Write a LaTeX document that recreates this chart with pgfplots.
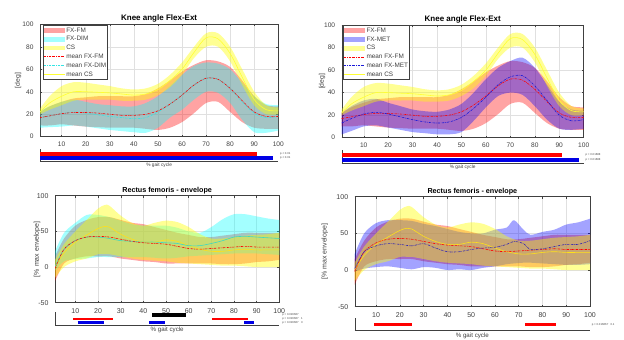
\documentclass[border=0pt]{standalone}
\usepackage{fontspec}
\setmainfont{Liberation Sans}
\usepackage{pgfplots}
\pgfplotsset{compat=1.18}
\usepgfplotslibrary{fillbetween}
\usepackage{pgfplotstable}

\definecolor{axgray}{rgb}{0.25,0.25,0.25}
\definecolor{gridgray}{rgb}{0.88,0.88,0.88}
\definecolor{pred}{rgb}{1,0,0}
\definecolor{pcyan}{rgb}{0,1,1}
\definecolor{pyel}{rgb}{1,1,0}
\definecolor{pblue}{rgb}{0,0,1}
\definecolor{mcyan}{rgb}{0.2,0.9,0.9}
\definecolor{mcyan2}{rgb}{0.25,0.85,0.75}
\definecolor{myel}{rgb}{1,1,0.2}
\definecolor{myel2}{rgb}{1,0.88,0.1}
\definecolor{mblue}{rgb}{0.1,0.1,0.85}
\definecolor{mblue2}{rgb}{0.2,0.15,0.7}
\definecolor{barblue}{rgb}{0,0,0.9}

\tikzset{mdash/.style={dash pattern=on 2.2pt off 0.9pt on 0.5pt off 0.9pt},
  ptext/.style={anchor=west, font=\fontsize{2.8}{3}\selectfont, text=axgray, inner sep=0.5pt}}

% ---------- top panels: knee angle ----------
\pgfplotstableread{
x lo hi m
1 10 22 17
5 10 27 18.5
10 11 31 20.5
15 10 34 21.5
20 9 35 21.5
25 8.5 36 21
30 8 36 20
35 8 36 19
40 8 36 19
45 7 38 20
50 6 43 23
55 8 50 29
60 13 58 37
65 21 64 46
70 30 68 52
75 31 67 51
80 22 62 43
85 13 50 32
90 8 36 22
95 7 28 18
100 7 27 18
}\tFMtop
\pgfplotstableread{
x lo hi m
1 8 23 17
5 8.5 27 18.5
10 9 31 20.5
15 10 33 22
20 9 31 21
25 7.5 29 19.5
30 6 28 18
35 5 27 17
40 4 27 16
45 3.5 30 17
50 8 36 22
55 17 45 29
60 24 55 37
65 33 63 46
70 40 66 52
75 39 65 51
80 30 60 43
85 15 48 31
90 4 36 21
95 3.5 29 17
100 5.5 28 18
}\tDIMtop
\pgfplotstableread{
x lo hi m
1 20 25 22
5 24 36 30
10 28 45 36
15 32 48.5 40
20 33 48 40
25 33 46.5 39.5
30 33 45 39
35 32 43 38
40 32 42 37
45 33 43 38
50 37 47 42
55 44 55 50
60 55 66 60
65 70 80 75
70 80 92 88
75 80 92 87
80 67 80 74
85 46 60 53
90 28 40 33
95 20 28 24
100 20 26 23
}\tCStop
\pgfplotstableread{
x lo hi m
1 3 22 13
5 6 28 17
10 10 33 21
15 11 34.5 22.5
20 9 31 21
25 7 28 18.5
30 5 25 16
35 4 23.5 14
40 3 23 13
45 3 25 14
50 5 30 18
55 15 40 26
60 27 52 36
65 37 62 47
70 40 68 54
75 38 71 55
80 28 62 46
85 16 47 33
90 8 32 20
95 7 25 15
100 8 24 16
}\tMETtop

% ---------- bottom panels: rectus femoris ----------
\pgfplotstableread{
x lo hi m
1 -20 15 -2
5 5 40 25
10 12 58 37
15 15 66 42
20 15 70 43
25 15 70 42
30 12 66 39
35 10 62 36
40 8 60 34
45 7 56 33
50 5 52 32
55 5 48 29
60 5 45 26
65 5 42 25
70 5 42 26
75 4 44 27
80 4 46 28
85 5 48 29
90 7 48 28
95 8 48 28
100 10 48 28
}\tFMbot
\pgfplotstableread{
x lo hi m
1 -5 22 0
5 8 48 25
10 11 62 37
15 12 73 42
20 14 73 42
25 14 70 40
30 14 65 37
35 14 60 36
40 14 58 35
45 13 58 35
50 12 58 34
55 13 55 33
60 15 50 30
65 16 48 30
70 17 56 33
75 18 67 37
80 19 74 42
85 19 74 43
90 19 71 42
95 18 68 41
100 17 66 40
}\tDIMbot
\pgfplotstableread{
x lo hi m
1 -15 10 0
5 0 32 20
10 8 50 35
15 12 66 45
20 18 82 54
23 18 87 57
25 18 86 56
30 15 72 46
35 12 62 39
40 10 58 35
45 9 62 35
50 8 65 38
55 6 63 36
60 5 56 30
65 4 46 25
70 3 40 22
75 2 40 22
80 2 42 24
85 1 44 25
90 0 45 24
95 0 46 24
100 0 48 24
}\tCSbot
\pgfplotstableread{
x lo hi m
1 -2 22 2
5 2 50 25
10 4 64 33
15 5 68 36
20 3 68 35
25 1 67 33
30 4 63 36
35 3 60 30
40 0 56 25
45 1 52 25
50 0 50 28
55 3 50 30
60 5 55 31
65 8 58 35
68 9 68 39
72 10 55 36
75 10 48 28
80 9 52 29
85 8 55 32
90 7 62 35
95 7 65 35
100 8 70 40
}\tMETbot

% band: table, colour, opacity, id
\newcommand{\band}[4]{%
  \addplot[name path=#4lo, draw=none, smooth, forget plot] table[x=x,y=lo]{#1};
  \addplot[name path=#4hi, draw=none, smooth, forget plot] table[x=x,y=hi]{#1};
  \addplot[draw=none, fill=#2, fill opacity=#3, forget plot] fill between[of=#4lo and #4hi];
}
\newcommand{\meanline}[2]{%
  \addplot[#2, line width=0.6pt, smooth, forget plot] table[x=x,y=m]{#1};
}
\newcommand{\legpatch}[2]{%
  \addlegendimage{legend image code/.code={\path[draw=none, fill=#1, fill opacity=#2] (0pt,-2.4pt) rectangle (21pt,2.4pt);}}}
\newcommand{\legline}[1]{%
  \addlegendimage{legend image code/.code={\draw[#1, line width=0.6pt] (0pt,0pt) -- (21pt,0pt);}}}

\pgfplotsset{
  mainax/.style={scale only axis, anchor=south west, xmin=1, xmax=100,
    xtick={10,20,...,100}, grid=major,
    major grid style={gridgray, line width=0.4pt},
    axis line style={axgray, line width=0.4pt},
    tick style={axgray, line width=0.4pt}, tick align=inside, major tick length=2pt,
    /pgf/number format/assume math mode=true,
    xticklabel style={yshift=-2pt}, yticklabel style={xshift=-3pt},
    ylabel style={text=axgray, anchor=center},
    legend style={at={(axis description cs:0,1)}, anchor=north west,
      draw=axgray, line width=0.4pt, fill=white, font=\fontsize{6.4}{7}\selectfont,
      text=axgray, row sep=0pt, inner sep=0.5pt,
      nodes={inner xsep=1pt, inner ysep=1.5pt, text height=4.6pt, text depth=1.2pt}},
    legend cell align=left},
  topax/.style={mainax, ymin=0, ymax=100, ytick={0,20,...,100},
    ticklabel style={font=\fontsize{6.6}{7}\selectfont, text=axgray},
    ylabel style={font=\fontsize{6.8}{7}\selectfont},
    title style={font=\bfseries\fontsize{8}{9}\selectfont, yshift=-7.5pt}},
  botax/.style={mainax, ymin=-50, ymax=100, ytick={-50,0,50,100},
    ticklabel style={font=\fontsize{7}{8}\selectfont, text=axgray},
    ylabel style={font=\fontsize{7}{8}\selectfont},
    title style={font=\bfseries\fontsize{7.2}{8}\selectfont, yshift=-8pt}},
  barax/.style={scale only axis, anchor=south west, xmin=1, xmax=100, ymin=0,
    axis x line*=bottom, axis y line*=left, xtick=\empty, ytick=\empty,
    axis line style={axgray, line width=0.4pt, -}, clip=false,
    xlabel style={at={(axis description cs:0.5,0)}, anchor=center, inner sep=0pt, text=axgray}}
}

\begin{document}
\begin{tikzpicture}

% ================= top left =================
\begin{axis}[topax, at={(40pt,203.3pt)}, width=238.3pt, height=112.4pt,
  title={Knee angle Flex-Ext}, ylabel={[deg]},
  ylabel style={at={(axis description cs:-0.0923,0.5)}},
  legend style={xshift=3pt, yshift=-1pt}]
\band{\tFMtop}{pred}{0.36}{tla}
\band{\tDIMtop}{pcyan}{0.36}{tlb}
\band{\tCStop}{pyel}{0.42}{tlc}
\meanline{\tCStop}{myel}
\meanline{\tDIMtop}{mcyan, mdash}
\meanline{\tFMtop}{red, mdash}
\legpatch{pred}{0.36}\addlegendentry{FX-FM}
\legpatch{pcyan}{0.36}\addlegendentry{FX-DIM}
\legpatch{pyel}{0.42}\addlegendentry{CS}
\legline{red, mdash}\addlegendentry{mean FX-FM}
\legline{mcyan, mdash}\addlegendentry{mean FX-DIM}
\legline{myel}\addlegendentry{mean CS}
\end{axis}
\begin{axis}[barax, at={(40pt,179pt)}, width=238.3pt, height=12pt, ymax=12,
  xlabel={\% gait cycle}, xlabel style={font=\fontsize{4.8}{5}\selectfont, yshift=-4pt}]
\addplot[red, line width=4pt] coordinates {(1,7.2) (91,7.2)};
\addplot[barblue, line width=3.3pt] coordinates {(1,3) (98,3)};
\node[ptext] at (axis cs:100.5,7.2) {p < 0.01};
\node[ptext] at (axis cs:100.5,3) {p < 0.01};
\end{axis}

% ================= top right =================
\begin{axis}[topax, at={(341.7pt,202.3pt)}, width=242pt, height=112.7pt,
  title={Knee angle Flex-Ext}, ylabel={[deg]},
  ylabel style={at={(axis description cs:-0.0814,0.5)}},
  legend style={xshift=1.5pt, yshift=-0.5pt}]
\band{\tFMtop}{pred}{0.36}{tra}
\band{\tMETtop}{pblue}{0.36}{trb}
\band{\tCStop}{pyel}{0.42}{trc}
\meanline{\tCStop}{myel}
\meanline{\tFMtop}{red, mdash}
\meanline{\tMETtop}{mblue, mdash}
\legpatch{pred}{0.36}\addlegendentry{FX-FM}
\legpatch{pblue}{0.36}\addlegendentry{FX-MET}
\legpatch{pyel}{0.42}\addlegendentry{CS}
\legline{red, mdash}\addlegendentry{mean FX-FM}
\legline{mblue, mdash}\addlegendentry{mean FX-MET}
\legline{myel}\addlegendentry{mean CS}
\end{axis}
\begin{axis}[barax, at={(341.7pt,177pt)}, width=242pt, height=13pt, ymax=13,
  xlabel={\% gait cycle}, xlabel style={font=\fontsize{4.8}{5}\selectfont, yshift=-4.7pt}]
\addplot[red, line width=4pt] coordinates {(1,7.7) (91,7.7)};
\addplot[barblue, line width=3.3pt] coordinates {(1,3) (98,3)};
\node[ptext] at (axis cs:100.5,7.7) {p = 0.01688};
\node[ptext] at (axis cs:100.5,3) {p = 0.01688};
\end{axis}

% ================= bottom left =================
\begin{axis}[botax, at={(55pt,37.3pt)}, width=224.3pt, height=107pt,
  title={Rectus femoris - envelope}, ylabel={[\% max envelope]},
  ylabel style={at={(axis description cs:-0.0803,0.5)}}]
\band{\tFMbot}{pred}{0.36}{bla}
\band{\tDIMbot}{pcyan}{0.36}{blb}
\band{\tCSbot}{pyel}{0.42}{blc}
\meanline{\tCSbot}{myel2}
\meanline{\tDIMbot}{mcyan2}
\meanline{\tFMbot}{red, mdash}
\end{axis}
\begin{axis}[barax, at={(55pt,15pt)}, width=224.3pt, height=13pt, ymax=13,
  xlabel={\% gait cycle}, xlabel style={font=\fontsize{6.2}{7}\selectfont, yshift=-5pt}]
\addplot[black, line width=3.3pt] coordinates {(44,10) (59,10)};
\addplot[red, line width=2.8pt] coordinates {(9,6) (26.5,6)};
\addplot[red, line width=2.8pt] coordinates {(70.5,6) (86,6)};
\addplot[barblue, line width=2.8pt] coordinates {(11,2.5) (22.8,2.5)};
\addplot[barblue, line width=2.8pt] coordinates {(42.7,2.5) (49.6,2.5)};
\addplot[barblue, line width=2.8pt] coordinates {(84.5,2.5) (89,2.5)};
\node[ptext] at (axis cs:101,10) {p = 0.016667};
\node[ptext] at (axis cs:101,6) {p = 0.016667 \ \ 1};
\node[ptext] at (axis cs:101,2.5) {p = 0.016667 \ \ 3};
\end{axis}

% ================= bottom right =================
\begin{axis}[botax, at={(354.7pt,33.3pt)}, width=235.3pt, height=110pt,
  title={Rectus femoris - envelope}, ylabel={[\% max envelope]},
  ylabel style={at={(axis description cs:-0.1275,0.5)}}]
\band{\tFMbot}{pred}{0.36}{bra}
\band{\tMETbot}{pblue}{0.36}{brb}
\band{\tCSbot}{pyel}{0.42}{brc}
\meanline{\tCSbot}{myel2}
\meanline{\tFMbot}{red, mdash}
\meanline{\tMETbot}{mblue2, mdash}
\end{axis}
\begin{axis}[barax, at={(354.7pt,10pt)}, width=235.3pt, height=12pt, ymax=12,
  xlabel={\% gait cycle}, xlabel style={font=\fontsize{6.2}{7}\selectfont, yshift=-6pt}]
\addplot[red, line width=3pt] coordinates {(9.3,5.5) (25,5.5)};
\addplot[red, line width=3pt] coordinates {(72.8,5.5) (85.5,5.5)};
\node[ptext] at (axis cs:100.5,5.5) {p = 0.016667 \ \ 0.1};
\end{axis}

\pgfresetboundingbox
\path[use as bounding box] (0pt,0pt) rectangle (624pt,340pt);
\end{tikzpicture}
\end{document}
